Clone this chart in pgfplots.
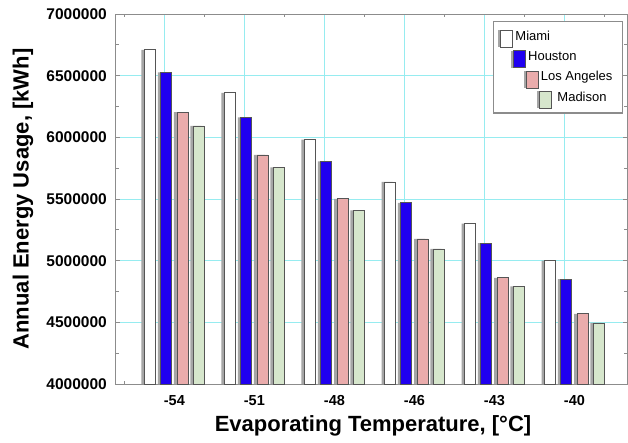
\documentclass[border=0pt]{standalone}
\usepackage{fontspec}
\setmainfont{Liberation Sans}
\usepackage{pgfplots}
\usepackage{pgfplotstable}
\pgfplotsset{compat=1.18}
\definecolor{gridc}{RGB}{150,236,240}
\definecolor{houston}{RGB}{32,0,240}
\definecolor{la}{RGB}{234,172,172}
\definecolor{madison}{RGB}{214,230,204}
\definecolor{edgec}{RGB}{85,85,85}
\definecolor{shadowc}{RGB}{165,165,165}
\definecolor{axisc}{RGB}{140,140,140}

\pgfplotstableread{
x miami houston la madison
0 6710000 6526000 6205000 6092000
1 6360000 6162000 5857000 5756000
2 5981000 5805000 5502000 5408000
3 5638000 5468000 5176000 5095000
4 5300000 5143000 4860000 4791000
5 5000000 4851000 4568000 4495000
}\datatable

\begin{document}
\begin{tikzpicture}
\begin{axis}[
  scale only axis, width=511bp, height=370bp,
  xmin=-0.73, xmax=5.6575, ymin=4000000, ymax=7000000,
  axis line style={axisc, line width=1bp},
  xtick={-0.12,0.88,1.88,2.88,3.88,4.88},
  xticklabels={-54,-51,-48,-46,-43,-40},
  xticklabel style={font=\fontsize{14.5bp}{17bp}\selectfont\bfseries, xshift=9.6bp, inner sep=0pt, yshift=-11bp},
  minor xtick={-0.63,0.37,1.37,2.37,3.37,4.37,5.37},
  major x tick style={draw=none},
  xmajorgrids, ymajorgrids,
  major grid style={gridc, line width=0.7bp},
  ytick={4000000,4500000,5000000,5500000,6000000,6500000,7000000},
  yticklabels={4000000,4500000,5000000,5500000,6000000,6500000,7000000},
  minor ytick={4250000,4750000,5250000,5750000,6250000,6750000},
  yticklabel style={font=\fontsize{15.5bp}{18bp}\selectfont\bfseries, inner sep=0pt, xshift=-9bp},
  tick style={axisc, line width=0.8bp},
  major tick length=4bp, minor tick length=3bp,
  scaled y ticks=false,
  xlabel={Evaporating Temperature, [°C]},
  ylabel={Annual Energy Usage, [kWh]},
  xlabel style={font=\fontsize{22bp}{26bp}\selectfont\bfseries, at={(axis description cs:0.503,-0.113)}, anchor=center},
  ylabel style={font=\fontsize{22bp}{26bp}\selectfont\bfseries, at={(axis description cs:-0.182,0.5)}, anchor=center},
  legend style={at={(1,1)}, anchor=north east, xshift=-4bp, yshift=-7bp, draw=axisc, line width=1.2bp, fill=white,
    inner xsep=5bp, inner ysep=9bp, row sep=7.8bp, column sep=2bp,
    font=\fontsize{13bp}{15bp}\selectfont,
    nodes={inner sep=0pt, text height=9.5bp, text depth=3bp}},
  legend cell align=left,
]
% shadows
\addplot[ybar, bar width=11bp, bar shift=-27.4bp, fill=shadowc, draw=none, forget plot] table[x=x,y=miami]{\datatable};
\addplot[ybar, bar width=11bp, bar shift=-11.1bp, fill=shadowc, draw=none, forget plot] table[x=x,y=houston]{\datatable};
\addplot[ybar, bar width=11bp, bar shift=5.1bp, fill=shadowc, draw=none, forget plot] table[x=x,y=la]{\datatable};
\addplot[ybar, bar width=11bp, bar shift=21.4bp, fill=shadowc, draw=none, forget plot] table[x=x,y=madison]{\datatable};
% bars
\addplot[ybar, bar width=11bp, bar shift=-24.4bp, fill=white, draw=edgec, line width=0.9bp,
  legend image code/.code={\path[use as bounding box, draw=none, fill=none] (0bp,-2bp) rectangle (15bp,2bp);
    \fill[overlay, shadowc, draw=none] (0bp,-10.5bp) rectangle ++(14.5bp,17bp);
    \draw[overlay, fill=white, draw=edgec, line width=0.9bp] (2.5bp,-10.5bp) rectangle ++(12bp,17bp);}]
  table[x=x,y=miami]{\datatable};
\addlegendentry{Miami}
\addplot[ybar, bar width=11bp, bar shift=-8.1bp, fill=houston, draw=edgec, line width=0.9bp,
  legend image code/.code={\path[use as bounding box, draw=none, fill=none] (0bp,-2bp) rectangle (15bp,2bp);
    \fill[overlay, shadowc, draw=none] (12.7bp,-10.5bp) rectangle ++(14.5bp,17bp);
    \draw[overlay, fill=houston, draw=edgec, line width=0.9bp] (15.2bp,-10.5bp) rectangle ++(12bp,17bp);}]
  table[x=x,y=houston]{\datatable};
\addlegendentry{\hspace*{12.7bp}Houston}
\addplot[ybar, bar width=11bp, bar shift=8.1bp, fill=la, draw=edgec, line width=0.9bp,
  legend image code/.code={\path[use as bounding box, draw=none, fill=none] (0bp,-2bp) rectangle (15bp,2bp);
    \fill[overlay, shadowc, draw=none] (25.4bp,-10.5bp) rectangle ++(14.5bp,17bp);
    \draw[overlay, fill=la, draw=edgec, line width=0.9bp] (27.9bp,-10.5bp) rectangle ++(12bp,17bp);}]
  table[x=x,y=la]{\datatable};
\addlegendentry{\hspace*{25.4bp}Los Angeles\hspace*{5bp}}
\addplot[ybar, bar width=11bp, bar shift=24.4bp, fill=madison, draw=edgec, line width=0.9bp,
  legend image code/.code={\path[use as bounding box, draw=none, fill=none] (0bp,-2bp) rectangle (15bp,2bp);
    \fill[overlay, shadowc, draw=none] (38.1bp,-10.5bp) rectangle ++(14.5bp,17bp);
    \draw[overlay, fill=madison, draw=edgec, line width=0.9bp] (40.6bp,-10.5bp) rectangle ++(12bp,17bp);}]
  table[x=x,y=madison]{\datatable};
\addlegendentry{\hspace*{42bp}Madison}
\end{axis}
\pgfresetboundingbox
\path[use as bounding box] (-116bp,-59bp) rectangle (512bp,384bp);
\end{tikzpicture}
\end{document}
